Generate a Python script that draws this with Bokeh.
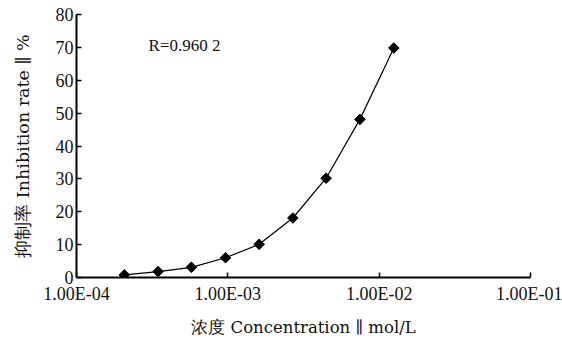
import math
from bokeh.plotting import figure
from bokeh.models import FixedTicker, Label, Range1d
from bokeh.embed import file_html
from bokeh.resources import INLINE

conc = [2.07e-4, 3.46e-4, 5.74e-4, 9.66e-4, 1.61e-3, 2.69e-3, 4.46e-3, 7.46e-3, 1.25e-2]
inhib = [0.8, 1.8, 3.1, 6.0, 10.1, 18.1, 30.2, 48.1, 69.8]
x_ticks = [1e-4, 1e-3, 1e-2, 1e-1]
x_tick_labels = ["1.00E-04", "1.00E-03", "1.00E-02", "1.00E-01"]
y_ticks = [0, 10, 20, 30, 40, 50, 60, 70, 80]

p = figure(width=562, height=342, x_axis_type="log",
           x_range=Range1d(1e-4, 1e-1), y_range=Range1d(0, 80),
           output_backend="svg", toolbar_location=None,
           min_border_left=76, min_border_right=32, min_border_top=14, min_border_bottom=65)
p.outline_line_color = None
p.grid.visible = False
p.background_fill_color = "white"
p.border_fill_color = "white"

p.line(conc, inhib, line_color="black", line_width=1.2)
p.scatter(conc, inhib, marker="square", size=7.5, angle=math.pi / 4,
          fill_color="black", line_color="black")

xa = p.xaxis[0]
xa.ticker = FixedTicker(ticks=x_ticks, minor_ticks=[])
xa.major_label_overrides = {t: l for t, l in zip(x_ticks, x_tick_labels)}
ya = p.yaxis[0]
ya.ticker = FixedTicker(ticks=y_ticks, minor_ticks=[])

for ax in (xa, ya):
    ax.axis_line_width = 2
    ax.axis_line_color = "black"
    ax.major_tick_line_color = "black"
    ax.major_tick_line_width = 1.5
    ax.major_tick_in = 5
    ax.major_tick_out = 0
    ax.minor_tick_line_color = None
    ax.major_label_text_font = "Liberation Serif"
    ax.major_label_text_font_size = "18px"
    ax.major_label_text_color = "#111111"
    ax.axis_label_text_font = "DejaVu Serif"
    ax.axis_label_text_font_style = "normal"
    ax.axis_label_text_font_size = "16.5px"
    ax.axis_label_text_color = "#111111"

xa.major_label_standoff = 6
ya.major_label_standoff = 3
xa.axis_label = "浓度 Concentration ∥ mol/L"
ya.axis_label = "抑制率 Inhibition rate ∥ %"
ya.axis_label_text_font_size = "17.5px"
xa.axis_label_standoff = 11
ya.axis_label_standoff = 20

p.add_layout(Label(x=2.99e-4, y=70.7, text="R=0.960 2", text_font="Liberation Serif",
                   text_font_size="17px", text_baseline="middle", text_color="#111111"))

open("out.html", "w").write(file_html(p, INLINE))
